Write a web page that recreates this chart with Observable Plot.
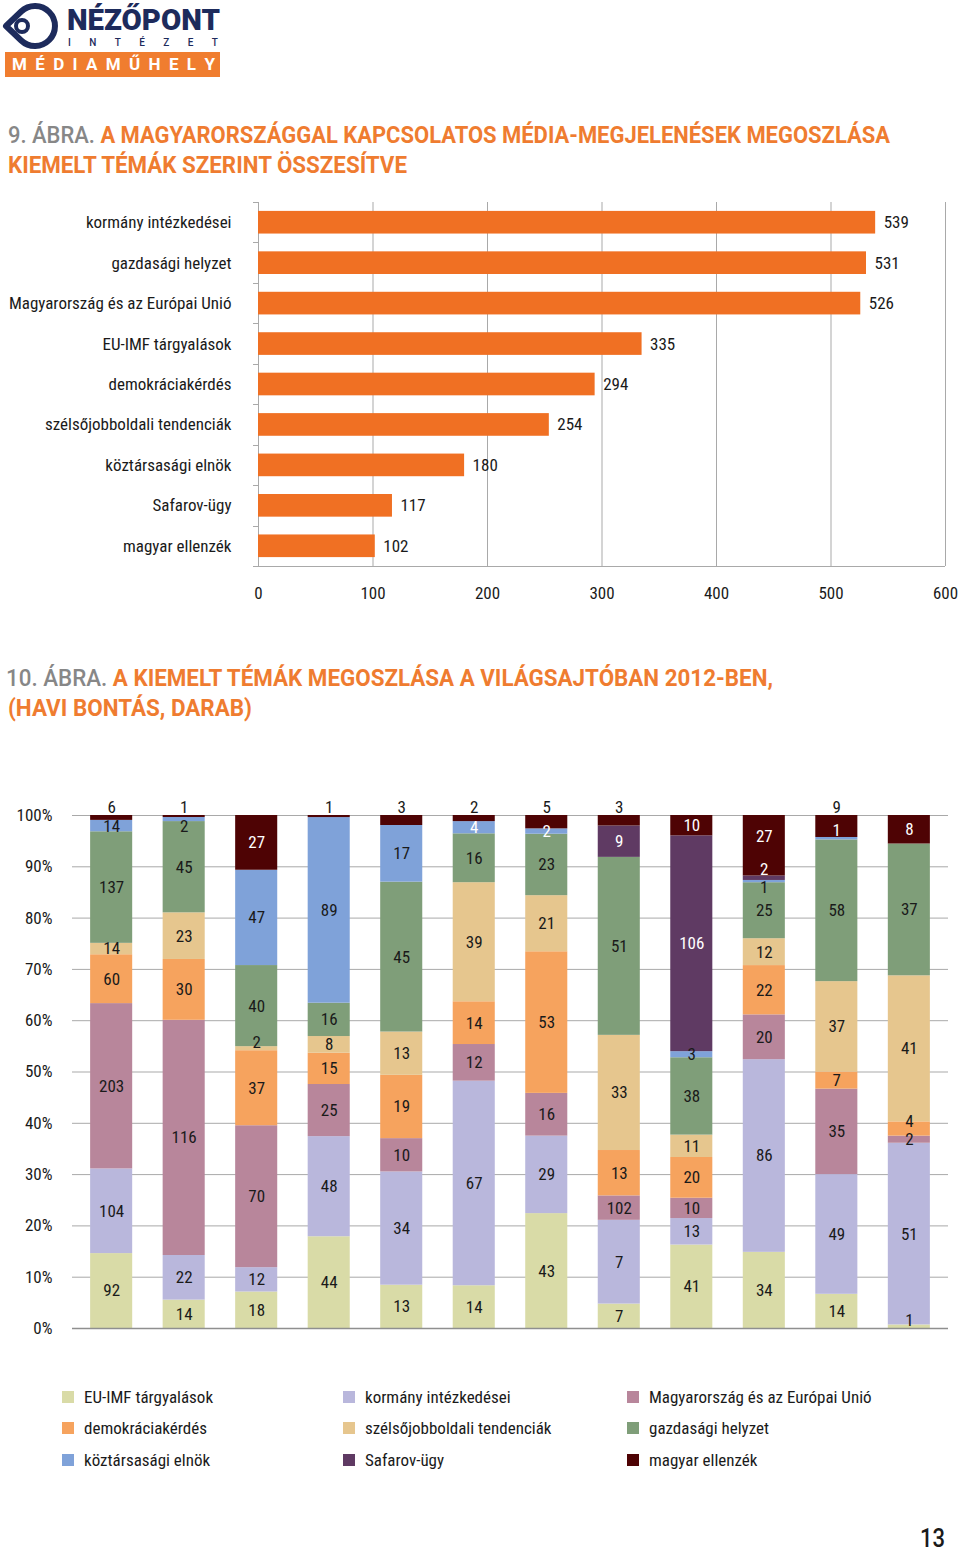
<!DOCTYPE html>
<html lang="hu">
<head>
<meta charset="utf-8">
<script src="https://cdn.jsdelivr.net/npm/d3@7"></script>
<script src="https://cdn.jsdelivr.net/npm/@observablehq/plot@0.6"></script>
<style>
  :root { --ff: "Liberation Sans Narrow", "Roboto Condensed", "Arial Narrow", Roboto, "DejaVu Sans", sans-serif; }
  html, body { margin: 0; padding: 0; background: #fff; }
  #page { position: relative; width: 960px; height: 1552px; overflow: hidden; font-family: var(--ff); color: #1a1a1a; }
  .abs { position: absolute; white-space: nowrap; }
  .fit { display: inline-block; transform-origin: 0 0; }
  .title { font-family: Roboto, "Open Sans", sans-serif; font-weight: 700; font-size: 24px; line-height: 24px; color: #ef7c30; }
  .title .num { color: #878787; font-weight: 500; }
  .legend-item { position: absolute; display: flex; align-items: center; font-size: 17px; line-height: 18px; }
  .legend-item .sw { width: 12px; height: 12px; margin-right: 10px; flex: none; }
</style>
</head>
<body>
<div id="page">
  <!-- logo -->
  <svg class="abs" style="left:0;top:0" width="64" height="52" viewBox="0 0 64 52">
    <path d="M6,26 L21.2,11.5 A20,20 0 1,1 21.2,40.5 Z" fill="none" stroke="#1d2b5c" stroke-width="6" stroke-linejoin="round"/>
    <circle cx="22" cy="26" r="6" fill="none" stroke="#1d2b5c" stroke-width="4"/>
  </svg>
  <div id="brand" class="abs fit" style="left:67px;top:6px;font:900 29px/29px Roboto, sans-serif;color:#1d2b5c;">NÉZŐPONT</div>
  <div id="intezet" class="abs" style="left:68px;top:38px;width:150px;display:flex;justify-content:space-between;font:500 10px/10px Roboto, sans-serif;color:#1d2b5c;"></div>
  <div class="abs" style="left:5px;top:52px;width:215px;height:25px;background:#f07d2f;">
    <div id="mediamuhely" style="position:absolute;left:7px;right:5px;top:0;height:25px;display:flex;justify-content:space-between;align-items:center;font:700 17px/17px Roboto, sans-serif;color:#fff;"></div>
  </div>

  <!-- title 9 -->
  <div id="t1a" class="abs fit title" style="left:8px;top:123px;"><span class="num">9. ÁBRA.</span> A MAGYARORSZÁGGAL KAPCSOLATOS MÉDIA-MEGJELENÉSEK MEGOSZLÁSA</div>
  <div id="t1b" class="abs fit title" style="left:8px;top:153px;">KIEMELT TÉMÁK SZERINT ÖSSZESÍTVE</div>
  <div id="chart1" class="abs" style="left:0;top:189px;"></div>

  <!-- title 10 -->
  <div id="t2a" class="abs fit title" style="left:6px;top:666px;"><span class="num">10. ÁBRA.</span> A KIEMELT TÉMÁK MEGOSZLÁSA A VILÁGSAJTÓBAN 2012-BEN,</div>
  <div id="t2b" class="abs fit title" style="left:8px;top:696px;">(HAVI BONTÁS, DARAB)</div>
  <div id="chart2" class="abs" style="left:0;top:790px;"></div>

  <div id="legend"></div>
  <div id="pagenum" class="abs fit" style="left:920px;top:1527px;font:500 26px/22px Roboto, sans-serif;color:#1a1a1a;">13</div>
</div>

<script>
// ---------- DATA: chart 9 (összesítve) ----------
const topics = ["kormány intézkedései", "gazdasági helyzet", "Magyarország és az Európai Unió", "EU-IMF tárgyalások", "demokráciakérdés", "szélsőjobboldali tendenciák", "köztársasági elnök", "Safarov-ügy", "magyar ellenzék"];
const topicCounts = [539, 531, 526, 335, 294, 254, 180, 117, 102];
const countTicks = [0, 100, 200, 300, 400, 500, 600];

// ---------- DATA: chart 10 (havi bontás) ----------
const months = ["január", "február", "március", "április", "május", "június", "július", "augusztus", "szeptember", "október", "november", "december"];
const seriesNames = ["EU-IMF tárgyalások", "kormány intézkedései", "Magyarország és az Európai Unió", "demokráciakérdés", "szélsőjobboldali tendenciák", "gazdasági helyzet", "köztársasági elnök", "Safarov-ügy", "magyar ellenzék"];
const seriesColors = ["#d9dba7", "#b9b7dc", "#b8869b", "#f6a35e", "#e6c68e", "#7f9e79", "#7fa2d9", "#5f3a63", "#4e0304"];
const euImf       = [92, 14, 18, 44, 13, 14, 43, 7, 41, 34, 14, 1];
const kormany     = [104, 22, 12, 48, 34, 67, 29, 24, 13, 86, 49, 51];
const magyarEu    = [203, 116, 70, 25, 10, 12, 16, 7, 10, 20, 35, 2];
const demokracia  = [60, 30, 37, 15, 19, 14, 53, 13, 20, 22, 7, 4];
const szelsojobb  = [14, 23, 2, 8, 13, 39, 21, 33, 11, 12, 37, 41];
const gazdasagi   = [137, 45, 40, 16, 45, 16, 23, 51, 38, 25, 58, 37];
const elnok       = [14, 2, 47, 89, 17, 4, 2, 0, 3, 1, 1, 0];
const safarov     = [0, 0, 0, 0, 0, 0, 0, 9, 106, 2, 0, 0];
const ellenzek    = [6, 1, 27, 1, 3, 2, 5, 3, 10, 27, 9, 8];
const seriesValues = [euImf, kormany, magyarEu, demokracia, szelsojobb, gazdasagi, elnok, safarov, ellenzek];
const pctTicks = [0, 10, 20, 30, 40, 50, 60, 70, 80, 90, 100];

// label text / placement tweaks as printed in the original
const labelTweaks = [
  {month: "augusztus", series: "Magyarország és az Európai Unió", text: "102"},
  {month: "augusztus", series: "kormány intézkedései", text: "7"},
  {month: "február", series: "köztársasági elnök", dy: 7},
  {month: "november", series: "magyar ellenzék", above: true},
  {month: "november", series: "köztársasági elnök", dy: -8, fill: "#fff"},
  {month: "október", series: "magyar ellenzék", dy: -9},
  {month: "október", series: "Safarov-ügy", dy: -9},
  {month: "október", series: "köztársasági elnök", dy: 6},
  {month: "június", series: "köztársasági elnök", fill: "#fff"},
  {month: "július", series: "köztársasági elnök", fill: "#fff"},
  {month: "március", series: "szélsőjobboldali tendenciák", dy: -6},
  {month: "december", series: "demokráciakérdés", dy: -7},
  {month: "december", series: "EU-IMF tárgyalások", dy: -6}
];

const FONT = getComputedStyle(document.documentElement).getPropertyValue("--ff");
const ORANGE = "#f07023";
const GRID = "#a9a9a9";

// ---------- logo letters ----------
for (const ch of "INTÉZET") { const s = document.createElement("span"); s.textContent = ch; document.getElementById("intezet").appendChild(s); }
for (const ch of "MÉDIAMŰHELY") { const s = document.createElement("span"); s.textContent = ch; document.getElementById("mediamuhely").appendChild(s); }

// ---------- chart 1 ----------
const data1 = topics.map((t, i) => ({topic: t, count: topicCounts[i]}));
const c1 = {width: 960, height: 417, top: 13, bottom: 40, left: 258, right: 15};
const chart1 = Plot.plot({
  width: c1.width, height: c1.height,
  marginTop: c1.top, marginBottom: c1.bottom, marginLeft: c1.left, marginRight: c1.right,
  style: {fontFamily: FONT, fontSize: "17px", color: "#1a1a1a", background: "transparent", overflow: "visible"},
  x: {domain: [0, 600], ticks: countTicks, tickSize: 0, tickPadding: 20, label: null},
  y: {domain: topics, paddingInner: 0.44, paddingOuter: 0.22, round: false, tickSize: 0, tickPadding: 27, label: null},
  marks: [
    Plot.ruleX(countTicks, {stroke: GRID, strokeWidth: 1}),
    Plot.barX(data1, {x: "count", y: "topic", fill: ORANGE}),
    Plot.text(data1, {x: "count", y: "topic", text: d => String(d.count), dx: 8, textAnchor: "start", fontSize: 17, fill: "#1a1a1a"})
  ]
});
document.getElementById("chart1").appendChild(chart1);
{
  const svg = d3.select(chart1.tagName.toLowerCase() === "svg" ? chart1 : chart1.querySelector("svg"));
  const fb = c1.height - c1.bottom, fh = c1.height - c1.top - c1.bottom;
  const g = svg.append("g").attr("stroke", GRID).attr("stroke-width", 1);
  g.append("line").attr("x1", c1.left - 5).attr("x2", c1.width - c1.right).attr("y1", fb + 0.5).attr("y2", fb + 0.5);
  for (let k = 0; k <= topics.length; k++) {
    const y = Math.round(c1.top + k * fh / topics.length) + 0.5;
    g.append("line").attr("x1", c1.left - 5).attr("x2", c1.left).attr("y1", y).attr("y2", y);
  }
}

// ---------- chart 2 ----------
const rows = [];
months.forEach((m, i) => {
  const total = d3.sum(seriesValues, v => v[i]);
  let acc = 0;
  seriesNames.forEach((s, j) => {
    const v = seriesValues[j][i];
    rows.push({month: m, series: s, value: v, y1: 100 * acc / total, y2: 100 * (acc + v) / total, share: v / total});
    acc += v;
  });
});
const darkSeries = new Set(["Safarov-ügy", "magyar ellenzék"]);
const labels = rows.filter(r => r.value > 0).map(r => {
  const t = labelTweaks.find(t => t.month === r.month && t.series === r.series) || {};
  const above = t.above ?? (r.series === "magyar ellenzék" && r.share < 0.03);
  return {
    month: r.month,
    y: above ? 100 : (r.y1 + r.y2) / 2,
    text: t.text ?? String(r.value),
    dy: above ? -8 : (t.dy ?? 0),
    fill: t.fill ?? (!above && darkSeries.has(r.series) ? "#fff" : "#1a1a1a")
  };
});
const labelMarks = d3.groups(labels, d => d.dy + "|" + d.fill).map(([, arr]) =>
  Plot.text(arr, {x: "month", y: "y", text: "text", dy: arr[0].dy, fill: arr[0].fill, fontSize: 17})
);
const c2 = {width: 960, height: 558, top: 25, bottom: 20, left: 72, right: 12};
const chart2 = Plot.plot({
  width: c2.width, height: c2.height,
  marginTop: c2.top, marginBottom: c2.bottom, marginLeft: c2.left, marginRight: c2.right,
  style: {fontFamily: FONT, fontSize: "17px", color: "#1a1a1a", background: "transparent", overflow: "visible"},
  x: {domain: months, paddingInner: 0.42, paddingOuter: 0.25, round: false, axis: null},
  y: {domain: [0, 100], ticks: pctTicks, tickFormat: d => d + "%", tickSize: 0, tickPadding: 20, label: null},
  color: {domain: seriesNames, range: seriesColors},
  marks: [
    Plot.ruleY(pctTicks, {stroke: GRID, strokeWidth: 1}),
    Plot.barY(rows.filter(r => r.value > 0), {x: "month", y1: "y1", y2: "y2", fill: "series"}),
    Plot.ruleY([0], {stroke: "#8f8f8f", strokeWidth: 1.5}),
    ...labelMarks
  ]
});
document.getElementById("chart2").appendChild(chart2);

// ---------- legend ----------
const legendCols = [62, 343, 627], legendRows = [1397, 1428, 1460];
const legend = document.getElementById("legend");
seriesNames.forEach((s, i) => {
  const item = document.createElement("div");
  item.className = "legend-item";
  item.style.left = legendCols[i % 3] + "px";
  item.style.top = (legendRows[Math.floor(i / 3)] - 9) + "px";
  const sw = document.createElement("span"); sw.className = "sw"; sw.style.background = seriesColors[i];
  const tx = document.createElement("span"); tx.textContent = s;
  item.append(sw, tx);
  legend.appendChild(item);
});

// ---------- fit title widths ----------
function fit(id, w) {
  const el = document.getElementById(id);
  el.style.transform = "none";
  const r = el.getBoundingClientRect().width;
  el.style.transform = `scaleX(${w / r})`;
}
function fitAll() {
  fit("brand", 153);
  fit("t1a", 882); fit("t1b", 399);
  fit("t2a", 767); fit("t2b", 244);
  fit("pagenum", 25);
}
fitAll();
if (document.fonts && document.fonts.ready) document.fonts.ready.then(fitAll);
</script>
</body>
</html>
